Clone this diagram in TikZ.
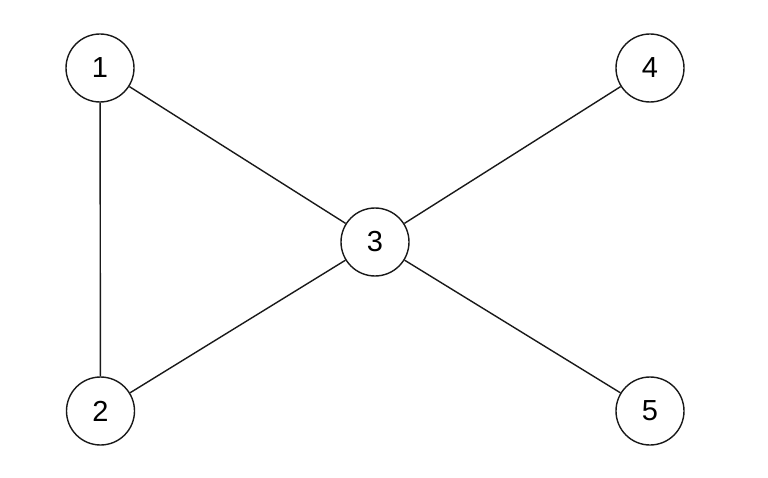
\documentclass[tikz,border=0pt]{standalone}
\usepackage{fontspec}
\setmainfont{Liberation Sans}
\begin{document}
\begin{tikzpicture}[x=1pt,y=-1pt,
  vertex/.style={circle,draw=black!90,line width=1.4pt,minimum size=68pt,inner sep=0pt,font=\fontsize{29}{30}\selectfont},
  edge/.style={draw=black!90,line width=1.4pt}]
\useasboundingbox (0,0) rectangle (768,478);
\node[vertex] (n1) at (100,68) {1};
\node[vertex] (n2) at (100.5,411) {2};
\node[vertex] (n3) at (375,242) {3};
\node[vertex] (n4) at (650,68) {4};
\node[vertex] (n5) at (650,411) {5};
\draw[edge] (n1) -- (n2);
\draw[edge] (n1) -- (n3);
\draw[edge] (n2) -- (n3);
\draw[edge] (n3) -- (n4);
\draw[edge] (n3) -- (n5);
\end{tikzpicture}
\end{document}
